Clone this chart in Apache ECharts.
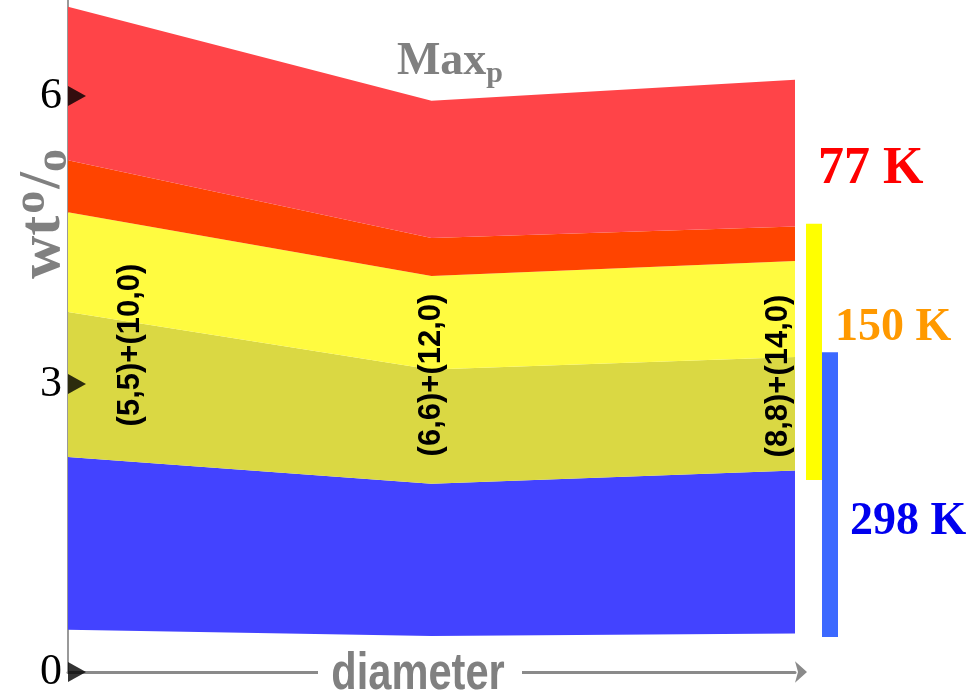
<!DOCTYPE html>
<html><head><meta charset="utf-8">
<script src="https://cdn.jsdelivr.net/npm/echarts@6/dist/echarts.min.js"></script>
<style>html,body{margin:0;padding:0;background:#fff}#c{width:970px;height:698px}</style>
</head><body><div id="c"></div>
<script>
// Categories (tube pairs along the diameter axis)
const categories = ['(5,5)+(10,0)', '(6,6)+(12,0)', '(8,8)+(14,0)'];
// Boundaries of the stacked bands (wt%)
const bandBottom = [0.44, 0.375, 0.40];
const blueTop    = [2.24, 1.96, 2.10];
const oliveTop   = [3.75, 3.15, 3.28];
const yellowTop  = [4.79, 4.125, 4.28];
const orangeTop  = [5.33, 4.52, 4.64];
const redTop     = [6.93, 5.95, 6.17];
// Y ticks
const yTicks = [0, 3, 6];
// Temperature range bars (wt%)
const range150K = [2.0, 4.67];
const range298K = [0.365, 3.33];

const chart = echarts.init(document.getElementById('c'), null, {renderer: 'canvas'});
const diff = (a, b) => a.map((v, i) => +(v - b[i]).toFixed(4));

const layers = [
  {name: 'base',   values: bandBottom,                 color: 'rgba(0,0,0,0)'},
  {name: 'blue',   values: diff(blueTop, bandBottom),  color: '#4343FF'},
  {name: 'olive',  values: diff(oliveTop, blueTop),    color: '#DAD843'},
  {name: 'yellow', values: diff(yellowTop, oliveTop),  color: '#FFFB40'},
  {name: 'orange', values: diff(orangeTop, yellowTop), color: '#FF4400'},
  {name: 'red',    values: diff(redTop, orangeTop),    color: '#FF4448'}
];

const series = layers.map(l => ({
  name: l.name, type: 'line', stack: 'all', data: l.values,
  symbol: 'none', lineStyle: {width: 0},
  areaStyle: {color: l.color, opacity: 1}, z: 2, silent: true
}));
series.push({
  type: 'scatter', data: yTicks.map(v => [0, v]),
  symbol: 'triangle', symbolRotate: -90, symbolSize: [20, 18], symbolOffset: [9, 0],
  itemStyle: {color: '#000'}, z: 10, clip: false, silent: true
});

chart.setOption({
  animation: false,
  grid: {left: 68, right: 175, top: 0, bottom: 26},
  xAxis: {
    type: 'category', data: categories, boundaryGap: false,
    axisLine: {show: true, lineStyle: {color: '#8a8a8a', width: 3},
      symbol: ['none', 'arrow'], symbolSize: [16, 12], symbolOffset: [0, 12]},
    axisTick: {show: false}, axisLabel: {show: false}
  },
  yAxis: {
    type: 'value', min: 0, max: 7,
    splitLine: {show: false},
    axisLine: {show: true, lineStyle: {color: '#999', width: 2}},
    axisTick: {show: false},
    axisLabel: {customValues: yTicks, fontFamily: 'Liberation Serif', fontSize: 44, color: '#000', margin: 6}
  },
  series: series
});

const px = (i, v) => chart.convertToPixel({xAxisIndex: 0, yAxisIndex: 0}, [i, v]);
const x0 = px(0, 0)[0], x1 = px(1, 0)[0], x2 = px(2, 0)[0], yZero = px(0, 0)[1];
const catLabelStyle = {fontFamily: 'Liberation Sans', fontWeight: 'bold', fontSize: 31, fill: '#000', align: 'center', verticalAlign: 'middle'};
const y150a = px(0, range150K[1])[1], y150b = px(0, range150K[0])[1];
const y298a = px(0, range298K[1])[1], y298b = px(0, range298K[0])[1];

chart.setOption({
  graphic: [
    {type: 'text', x: x0 + 62, y: 345, rotation: Math.PI / 2, style: Object.assign({text: categories[0]}, catLabelStyle), z: 20},
    {type: 'text', x: x1, y: 375, rotation: Math.PI / 2, style: Object.assign({text: categories[1]}, catLabelStyle), z: 20},
    {type: 'text', x: x2 - 17, y: 376, rotation: Math.PI / 2, style: Object.assign({text: categories[2]}, catLabelStyle), z: 20},
    {type: 'text', x: 43, y: 214, rotation: Math.PI / 2,
      style: {text: '{a|wt}{s|o}{a|/}{b|o}', align: 'center', verticalAlign: 'middle',
        rich: {
          a: {fontFamily: 'Liberation Serif', fontWeight: 'bold', fontSize: 60, fill: '#808080'},
          s: {fontFamily: 'Liberation Serif', fontWeight: 'bold', fontSize: 46, fill: '#808080', verticalAlign: 'top', padding: [0, 2, 22, 2]},
          b: {fontFamily: 'Liberation Serif', fontWeight: 'bold', fontSize: 46, fill: '#808080', verticalAlign: 'bottom', padding: [18, 0, 0, 0]}
        }}, z: 20},
    {type: 'text', x: 450, y: 62,
      style: {text: '{m|Max}{p|p}', align: 'center', verticalAlign: 'middle',
        rich: {
          m: {fontFamily: 'Liberation Serif', fontWeight: 'bold', fontSize: 46, fill: '#808080'},
          p: {fontFamily: 'Liberation Serif', fontWeight: 'bold', fontSize: 30, fill: '#808080', padding: [24, 0, 0, 0]}
        }}, z: 20},
    {type: 'rect', shape: {x: 318, y: yZero - 12, width: 204, height: 24}, style: {fill: '#fff'}, z: 20},
    {type: 'text', x: 418, y: yZero + 3, scaleX: 0.8,
      style: {text: 'diameter', fontFamily: 'Liberation Sans', fontWeight: 'bold', fontSize: 52, fill: '#808080', align: 'center', verticalAlign: 'middle'}, z: 21},
    {type: 'rect', shape: {x: 806, y: y150a, width: 16, height: y150b - y150a}, style: {fill: '#FFFF00'}, z: 5},
    {type: 'rect', shape: {x: 822, y: y298a, width: 16, height: y298b - y298a}, style: {fill: '#3C69FF'}, z: 5},
    {type: 'text', x: 818, y: 170, style: {text: '77 K', fontFamily: 'Liberation Serif', fontWeight: 'bold', fontSize: 52, fill: '#FF0000', verticalAlign: 'middle'}, z: 20},
    {type: 'text', x: 835, y: 328, style: {text: '150 K', fontFamily: 'Liberation Serif', fontWeight: 'bold', fontSize: 46, fill: '#FF9900', verticalAlign: 'middle'}, z: 20},
    {type: 'text', x: 850, y: 522, style: {text: '298 K', fontFamily: 'Liberation Serif', fontWeight: 'bold', fontSize: 46, fill: '#0000EE', verticalAlign: 'middle'}, z: 20}
  ]
});
</script></body></html>
